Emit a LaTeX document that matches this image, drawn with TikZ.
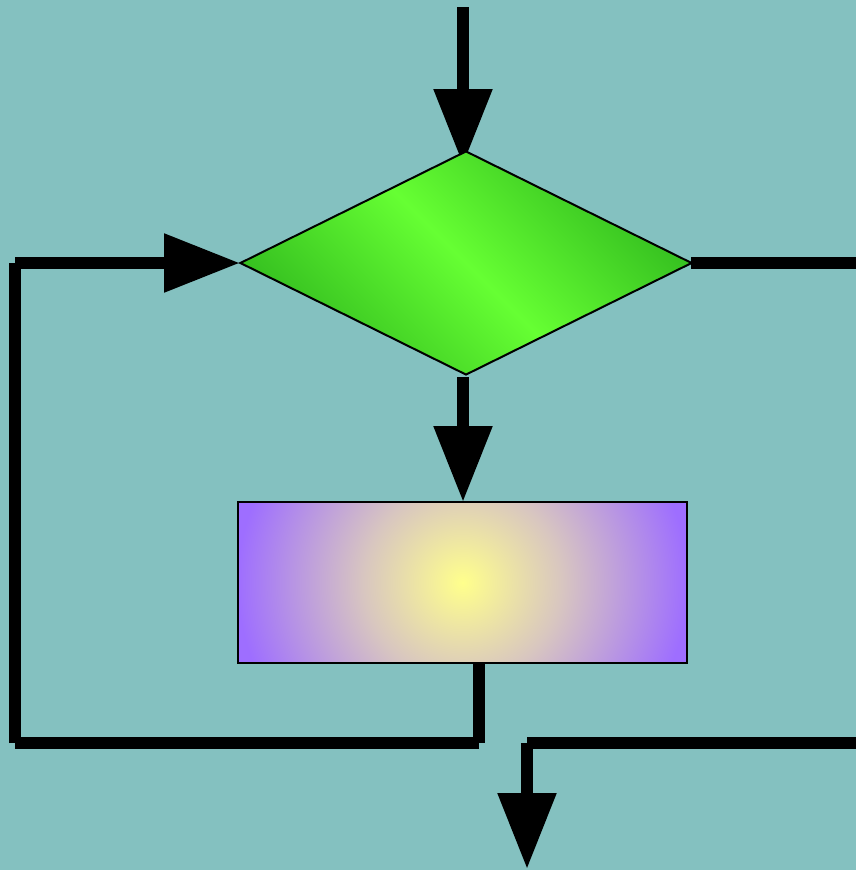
\documentclass[tikz,border=0pt]{standalone}
\usetikzlibrary{shapes.geometric,arrows.meta}
\definecolor{bg}{RGB}{132,193,192}
\definecolor{dkg}{RGB}{38,172,26}
\definecolor{brg}{RGB}{102,255,51}
\definecolor{ylw}{RGB}{255,255,140}
\definecolor{pur}{RGB}{158,110,255}
\definecolor{midc}{RGB}{216,198,192}
\pgfdeclareverticalshading{diag}{100bp}{color(0bp)=(dkg); color(27bp)=(dkg); color(50bp)=(brg); color(73bp)=(dkg); color(100bp)=(dkg)}
\pgfdeclareradialshading{glow}{\pgfpoint{0bp}{0bp}}{color(0bp)=(ylw); color(11bp)=(midc); color(25bp)=(pur); color(50bp)=(pur)}
\pgfdeclarelayer{behind}
\pgfsetlayers{behind,main}
\tikzset{
  conn/.style={line width=12pt, line cap=butt, draw=black},
  arr/.style={conn, -{Triangle[length=76pt, width=56pt]}},
  shapeborder/.style={draw=black, line width=2pt, inner sep=0pt},
}
\begin{document}
\begin{tikzpicture}[x=1pt, y=-1pt]
\useasboundingbox (0,0) rectangle (856,870);

\node[shapeborder, diamond, minimum width=452pt, minimum height=224pt,
  path picture={\shade[shading=diag, shading angle=-45]
    (path picture bounding box.center) ++(-230,-230) rectangle ++(460,460);}]
  (dia) at (466,263) {};

\node[shapeborder, rectangle, minimum width=449pt, minimum height=161pt,
  path picture={\shade[shading=glow]
    (path picture bounding box.center) ++(-225,-220) rectangle ++(450,440);}]
  (rect) at (462.5,582.5) {};

\coordinate (top) at (463,7);
\coordinate (toptip) at (463,165);
\coordinate (lb) at (479,743);
\coordinate (ll) at (15,743);
\coordinate (lt) at (15,263);
\coordinate (re) at (856,263);
\coordinate (br) at (856,743);
\coordinate (bc) at (527,743);
\coordinate (bend) at (527,869);

\begin{pgfonlayer}{behind}
\fill[bg] (0,0) rectangle (856,870);
\draw[arr] (top) -- (toptip);
\end{pgfonlayer}
\draw[arr] ([yshift=-1pt]dia.south -| top) -- ([yshift=-1pt]rect.north -| top);
\draw[conn] (rect.south -| lb) -- (lb);
\draw[conn] (lb) -- (ll);
\draw[conn] (ll) -- (lt);
\draw[arr] (lt) -- ([xshift=1pt]dia.west);
\draw[conn] ([xshift=-2pt]dia.east) -- (re);
\draw[conn] (br) -- (bc);
\draw[arr] (bc) -- (bend);
\end{tikzpicture}
\end{document}
